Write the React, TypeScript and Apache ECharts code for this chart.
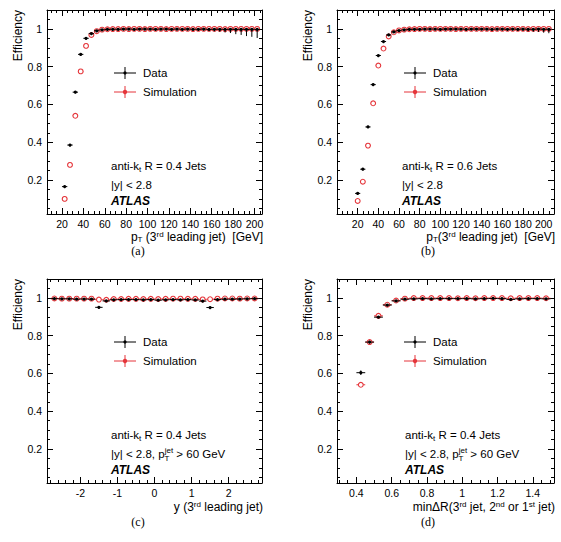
import React, { useEffect, useRef } from 'react';
import * as echarts from 'echarts';

const SANS = '"Liberation Sans", Arial, Helvetica, sans-serif';
const SERIF = '"Liberation Serif", "DejaVu Serif", serif';
const BLACK = '#000000';
const RED = '#e5353a';

// ---------- (a) anti-kt R = 0.4, efficiency vs pT of the 3rd leading jet ----------
const PT_R04 = [22.5, 27.5, 32.5, 37.5, 42.5, 47.5, 52.5, 57.5, 62.5, 67.5, 72.5, 77.5, 82.5, 87.5, 92.5, 97.5, 102.5, 107.5, 112.5, 117.5, 122.5, 127.5, 132.5, 137.5, 142.5, 147.5, 152.5, 157.5, 162.5, 167.5, 172.5, 177.5, 182.5, 187.5, 192.5, 197.5, 202.5];
const DATA_R04 = [0.165, 0.385, 0.665, 0.865, 0.95, 0.975, 0.99, 0.995, 0.997, 0.998, 0.998, 0.999, 0.999, 0.998, 0.999, 0.999, 0.999, 0.998, 0.999, 0.999, 0.998, 0.999, 0.998, 0.999, 0.998, 0.998, 0.999, 0.997, 0.998, 0.998, 0.997, 0.998, 0.997, 0.998, 0.997, 0.998, 0.997];
const DATA_ERR_R04 = [0.005, 0.006, 0.006, 0.005, 0.004, 0.003, 0.002, 0.002, 0.002, 0.002, 0.002, 0.002, 0.002, 0.002, 0.003, 0.003, 0.003, 0.003, 0.004, 0.004, 0.004, 0.005, 0.005, 0.006, 0.006, 0.007, 0.008, 0.009, 0.011, 0.013, 0.016, 0.02, 0.025, 0.03, 0.035, 0.04, 0.045];
const SIM_R04 = [0.1, 0.28, 0.54, 0.775, 0.91, 0.968, 0.988, 0.996, 0.998, 0.999, 0.999, 1.0, 0.999, 1.0, 1.0, 0.999, 1.0, 1.0, 1.0, 0.999, 1.0, 1.0, 1.0, 1.0, 0.999, 1.0, 1.0, 1.0, 1.0, 1.0, 0.999, 1.0, 1.0, 1.0, 1.0, 1.0, 1.0];
const SIM_ERR_R04 = [0.004, 0.005, 0.005, 0.004, 0.003, 0.002, 0.001, 0.001, 0.001, 0.001, 0.001, 0.001, 0.001, 0.001, 0.001, 0.001, 0.001, 0.001, 0.001, 0.001, 0.001, 0.001, 0.001, 0.001, 0.001, 0.001, 0.001, 0.001, 0.001, 0.001, 0.001, 0.001, 0.001, 0.001, 0.001, 0.001, 0.001];

// ---------- (b) anti-kt R = 0.6, efficiency vs pT of the 3rd leading jet ----------
const PT_R06 = [20, 25, 30, 35, 40, 45, 50, 55, 60, 65, 70, 75, 80, 85, 90, 95, 100, 105, 110, 115, 120, 125, 130, 135, 140, 145, 150, 155, 160, 165, 170, 175, 180, 185, 190, 195, 200, 205];
const DATA_R06 = [0.129, 0.257, 0.481, 0.705, 0.859, 0.933, 0.968, 0.984, 0.991, 0.995, 0.997, 0.998, 0.998, 0.999, 0.999, 0.999, 0.998, 0.999, 0.999, 0.999, 0.999, 0.998, 0.999, 0.999, 0.999, 0.999, 0.998, 0.999, 0.999, 0.998, 0.999, 0.998, 0.999, 0.998, 0.998, 0.999, 0.998, 0.998];
const DATA_ERR_R06 = [0.005, 0.006, 0.006, 0.006, 0.004, 0.003, 0.002, 0.002, 0.002, 0.002, 0.002, 0.002, 0.002, 0.002, 0.002, 0.002, 0.002, 0.002, 0.003, 0.003, 0.003, 0.003, 0.003, 0.004, 0.004, 0.004, 0.005, 0.005, 0.006, 0.006, 0.007, 0.008, 0.009, 0.011, 0.013, 0.015, 0.018, 0.021];
const SIM_R06 = [0.089, 0.191, 0.382, 0.606, 0.806, 0.896, 0.96, 0.982, 0.992, 0.996, 0.998, 0.999, 1.0, 1.0, 0.999, 1.0, 1.0, 1.0, 1.0, 0.999, 1.0, 1.0, 1.0, 1.0, 1.0, 1.0, 0.999, 1.0, 1.0, 1.0, 1.0, 1.0, 1.0, 0.999, 1.0, 1.0, 1.0, 1.0];
const SIM_ERR_R06 = [0.004, 0.005, 0.005, 0.005, 0.004, 0.003, 0.002, 0.001, 0.001, 0.001, 0.001, 0.001, 0.001, 0.001, 0.001, 0.001, 0.001, 0.001, 0.001, 0.001, 0.001, 0.001, 0.001, 0.001, 0.001, 0.001, 0.001, 0.001, 0.001, 0.001, 0.001, 0.001, 0.001, 0.001, 0.001, 0.001, 0.001, 0.001];

// ---------- (c) anti-kt R = 0.4, efficiency vs rapidity of the 3rd leading jet ----------
const Y_BINS = [-2.7, -2.5, -2.3, -2.1, -1.9, -1.7, -1.5, -1.3, -1.1, -0.9, -0.7, -0.5, -0.3, -0.1, 0.1, 0.3, 0.5, 0.7, 0.9, 1.1, 1.3, 1.5, 1.7, 1.9, 2.1, 2.3, 2.5, 2.7];
const DATA_Y = [0.996, 0.995, 0.995, 0.993, 0.994, 0.993, 0.95, 0.984, 0.99, 0.991, 0.991, 0.991, 0.99, 0.991, 0.988, 0.99, 0.991, 0.99, 0.991, 0.989, 0.983, 0.949, 0.991, 0.993, 0.993, 0.994, 0.995, 0.996];
const DATA_ERR_Y = [0.003, 0.003, 0.003, 0.003, 0.003, 0.003, 0.006, 0.004, 0.003, 0.003, 0.003, 0.003, 0.003, 0.003, 0.003, 0.003, 0.003, 0.003, 0.003, 0.003, 0.004, 0.006, 0.003, 0.003, 0.003, 0.003, 0.003, 0.003];
const SIM_Y = [0.997, 0.996, 0.996, 0.996, 0.996, 0.996, 0.991, 0.99, 0.994, 0.994, 0.995, 0.995, 0.994, 0.995, 0.994, 0.995, 0.996, 0.996, 0.995, 0.995, 0.992, 0.993, 0.996, 0.997, 0.997, 0.996, 0.997, 0.997];
const SIM_ERR_Y = [0.002, 0.002, 0.002, 0.002, 0.002, 0.002, 0.003, 0.003, 0.002, 0.002, 0.002, 0.002, 0.002, 0.002, 0.002, 0.002, 0.002, 0.002, 0.002, 0.002, 0.003, 0.003, 0.002, 0.002, 0.002, 0.002, 0.002, 0.002];

// ---------- (d) anti-kt R = 0.4, efficiency vs min delta R to the leading jets ----------
const DR_BINS = [0.425, 0.475, 0.525, 0.575, 0.625, 0.675, 0.725, 0.775, 0.825, 0.875, 0.925, 0.975, 1.025, 1.075, 1.125, 1.175, 1.225, 1.275, 1.325, 1.375, 1.425, 1.475];
const DATA_DR = [0.604, 0.766, 0.898, 0.962, 0.984, 0.993, 0.995, 0.996, 0.995, 0.996, 0.996, 0.996, 0.996, 0.995, 0.996, 0.997, 0.996, 0.992, 0.995, 0.996, 0.996, 0.995];
const DATA_ERR_DR = [0.012, 0.007, 0.005, 0.004, 0.003, 0.002, 0.002, 0.002, 0.002, 0.002, 0.002, 0.002, 0.002, 0.002, 0.002, 0.002, 0.002, 0.002, 0.002, 0.002, 0.002, 0.002];
const SIM_DR = [0.54, 0.766, 0.905, 0.964, 0.986, 0.996, 0.999, 0.999, 0.999, 0.999, 0.999, 0.998, 0.999, 0.998, 0.999, 0.999, 0.999, 0.998, 0.999, 0.999, 0.999, 0.998];
const SIM_ERR_DR = [0.008, 0.005, 0.003, 0.002, 0.002, 0.001, 0.001, 0.001, 0.001, 0.001, 0.001, 0.001, 0.001, 0.001, 0.001, 0.001, 0.001, 0.001, 0.001, 0.001, 0.001, 0.001];

// ---------- axis ticks ----------
const EFF_TICKS = [0.2, 0.4, 0.6, 0.8, 1];
const EFF_TICK_LABELS = ['0.2', '0.4', '0.6', '0.8', '1'];
const PT_TICKS = [20, 40, 60, 80, 100, 120, 140, 160, 180, 200];
const PT_TICK_LABELS = ['20', '40', '60', '80', '100', '120', '140', '160', '180', '200'];
const Y_TICKS = [-2, -1, 0, 1, 2];
const Y_TICK_LABELS = ['-2', '-1', '0', '1', '2'];
const DR_TICKS = [0.4, 0.6, 0.8, 1, 1.2, 1.4];
const DR_TICK_LABELS = ['0.4', '0.6', '0.8', '1', '1.2', '1.4'];

const EFF_MIN = 0.02;
const EFF_MAX = 1.1;

// frame of each pad, in pixels, plus the offsets of its x title and caption below the frame
const FRAMES = [
  { left: 47, top: 10, width: 215, height: 204, titleDy: 23, captionDy: 37 },
  { left: 337, top: 10, width: 217, height: 204, titleDy: 23, captionDy: 37 },
  { left: 47, top: 279, width: 215, height: 204, titleDy: 24, captionDy: 39 },
  { left: 337, top: 279, width: 217, height: 204, titleDy: 24, captionDy: 39 },
];

const PANELS = [
  {
    x: PT_R04, data: DATA_R04, dataErr: DATA_ERR_R04, sim: SIM_R04, simErr: SIM_ERR_R04, halfBin: 2.5,
    xMin: 6, xMax: 207, xTicks: PT_TICKS, xLabels: PT_TICK_LABELS, xMinorStep: 5,
    xTitle: 'p{sub|T} (3{sup|rd} leading jet)  [GeV]',
    lines: ['anti-k{sub|t} R = 0.4 Jets', '|y| < 2.8'], noteX: 64, caption: '(a)',
  },
  {
    x: PT_R06, data: DATA_R06, dataErr: DATA_ERR_R06, sim: SIM_R06, simErr: SIM_ERR_R06, halfBin: 2.5,
    xMin: 0, xMax: 210, xTicks: PT_TICKS, xLabels: PT_TICK_LABELS, xMinorStep: 5,
    xTitle: 'p{sub|T}(3{sup|rd} leading jet)  [GeV]',
    lines: ['anti-k{sub|t} R = 0.6 Jets', '|y| < 2.8'], noteX: 65, caption: '(b)',
  },
  {
    x: Y_BINS, data: DATA_Y, dataErr: DATA_ERR_Y, sim: SIM_Y, simErr: SIM_ERR_Y, halfBin: 0.1,
    xMin: -2.9, xMax: 2.9, xTicks: Y_TICKS, xLabels: Y_TICK_LABELS, xMinorStep: 0.2,
    xTitle: 'y (3{sup|rd} leading jet)',
    lines: ['anti-k{sub|t} R = 0.4 Jets', '|y| < 2.8, p{subz|T}{sup|jet} > 60 GeV'], noteX: 64, caption: '(c)',
  },
  {
    x: DR_BINS, data: DATA_DR, dataErr: DATA_ERR_DR, sim: SIM_DR, simErr: SIM_ERR_DR, halfBin: 0.025,
    xMin: 0.29, xMax: 1.52, xTicks: DR_TICKS, xLabels: DR_TICK_LABELS, xMinorStep: 0.05,
    xTitle: 'min\u0394R(3{sup|rd} jet, 2{sup|nd} or 1{sup|st} jet)',
    lines: ['anti-k{sub|t} R = 0.4 Jets', '|y| < 2.8, p{subz|T}{sup|jet} > 60 GeV'], noteX: 68, caption: '(d)',
  },
];

function minorTicks(min: number, max: number, step: number, majors: number[]) {
  const out: number[] = [];
  const start = Math.ceil(min / step - 1e-9);
  const end = Math.floor(max / step + 1e-9);
  for (let k = start; k <= end; k++) {
    const v = +(k * step).toFixed(6);
    if (!majors.some((m) => Math.abs(m - v) < 1e-9)) out.push(v);
  }
  return out;
}

function labelFor(ticks: number[], labels: string[]) {
  return (v: number) => {
    const i = ticks.findIndex((t) => Math.abs(t - v) < 1e-9);
    return i >= 0 ? labels[i] : '';
  };
}

function axis(dim: 'x' | 'y', gridIndex: number, position: string, min: number, max: number, ticks: number[], len: number, withLine: boolean, labels?: string[]) {
  return {
    type: 'value',
    gridIndex,
    position,
    min,
    max,
    axisLine: { show: withLine, onZero: false, lineStyle: { color: BLACK, width: 1 } },
    axisTick: { show: true, inside: true, length: len, customValues: ticks, lineStyle: { color: BLACK, width: 1 } },
    axisLabel: labels
      ? {
          show: true,
          customValues: ticks,
          formatter: labelFor(ticks, labels),
          margin: dim === 'x' ? 4 : 5,
          color: BLACK,
          fontFamily: SANS,
          fontSize: 10.5,
          hideOverlap: false,
        }
      : { show: false },
    splitLine: { show: false },
    minorTick: { show: false },
    minorSplitLine: { show: false },
  };
}

// error-bar marker: bin-width bar, vertical uncertainty, dot or open circle
function pointRenderer(color: string, open: boolean) {
  return (_params: any, api: any) => {
    const x = api.value(0);
    const y = api.value(1);
    const lo = api.value(2);
    const hi = api.value(3);
    const hw = api.value(4);
    const c = api.coord([x, y]);
    const l = api.coord([x - hw, y]);
    const r = api.coord([x + hw, y]);
    const b = api.coord([x, y - lo]);
    const t = api.coord([x, y + hi]);
    const rad = open ? 2.4 : 1.6;
    const style = { stroke: color, lineWidth: 1 };
    const children: any[] = [];
    if (open) {
      if (c[0] - l[0] > rad) children.push({ type: 'line', shape: { x1: l[0], y1: c[1], x2: c[0] - rad, y2: c[1] }, style });
      if (r[0] - c[0] > rad) children.push({ type: 'line', shape: { x1: c[0] + rad, y1: c[1], x2: r[0], y2: c[1] }, style });
      if (b[1] - c[1] > rad) children.push({ type: 'line', shape: { x1: c[0], y1: c[1] + rad, x2: c[0], y2: b[1] }, style });
      if (c[1] - t[1] > rad) children.push({ type: 'line', shape: { x1: c[0], y1: t[1], x2: c[0], y2: c[1] - rad }, style });
      children.push({ type: 'circle', shape: { cx: c[0], cy: c[1], r: rad }, style: { fill: 'none', stroke: color, lineWidth: 1.1 } });
    } else {
      children.push({ type: 'line', shape: { x1: l[0], y1: c[1], x2: r[0], y2: c[1] }, style });
      children.push({ type: 'line', shape: { x1: c[0], y1: t[1], x2: c[0], y2: b[1] }, style });
      children.push({ type: 'circle', shape: { cx: c[0], cy: c[1], r: rad }, style: { fill: color } });
    }
    return { type: 'group', children };
  };
}

const RICH = {
  sub: { fontSize: 8, lineHeight: 6, verticalAlign: 'bottom', fontFamily: SANS, fill: BLACK },
  subz: { fontSize: 8, lineHeight: 6, verticalAlign: 'bottom', fontFamily: SANS, fill: BLACK, width: 0.1 },
  sup: { fontSize: 8, lineHeight: 6, verticalAlign: 'top', fontFamily: SANS, fill: BLACK },
};

// one line of text with sub/superscripts; lineHeight sets how far they sit from the main text
function richText(x: number, y: number, text: string, align: string, size: number, lineHeight: number) {
  return {
    type: 'text',
    x,
    y,
    style: {
      text,
      align,
      verticalAlign: 'middle',
      fontFamily: SANS,
      fontSize: size,
      lineHeight,
      fill: BLACK,
      rich: RICH,
    },
  };
}

function buildOption() {
  const grid: any[] = [];
  const xAxis: any[] = [];
  const yAxis: any[] = [];
  const series: any[] = [];
  const graphic: any[] = [];

  PANELS.forEach((p, i) => {
    const f = FRAMES[i];
    grid.push({ left: f.left, top: f.top, width: f.width, height: f.height, outerBoundsMode: 'none', containLabel: false });

    const xMinor = minorTicks(p.xMin, p.xMax, p.xMinorStep, p.xTicks);
    const yMinor = minorTicks(EFF_MIN, EFF_MAX, 0.05, EFF_TICKS);

    xAxis.push(axis('x', i, 'bottom', p.xMin, p.xMax, p.xTicks, 6, true, p.xLabels));
    xAxis.push(axis('x', i, 'bottom', p.xMin, p.xMax, xMinor, 3, false));
    xAxis.push(axis('x', i, 'top', p.xMin, p.xMax, p.xTicks, 6, true));
    xAxis.push(axis('x', i, 'top', p.xMin, p.xMax, xMinor, 3, false));

    yAxis.push(axis('y', i, 'left', EFF_MIN, EFF_MAX, EFF_TICKS, 6, true, EFF_TICK_LABELS));
    yAxis.push(axis('y', i, 'left', EFF_MIN, EFF_MAX, yMinor, 3, false));
    yAxis.push(axis('y', i, 'right', EFF_MIN, EFF_MAX, EFF_TICKS, 6, true));
    yAxis.push(axis('y', i, 'right', EFF_MIN, EFF_MAX, yMinor, 3, false));

    const dataPts = p.x.map((x, k) => [x, p.data[k], p.dataErr[k], Math.min(p.dataErr[k], 1 - p.data[k]), p.halfBin]);
    const simPts = p.x.map((x, k) => [x, p.sim[k], p.simErr[k], Math.min(p.simErr[k], 1 - p.sim[k]), p.halfBin]);

    series.push({
      name: 'Simulation',
      type: 'custom',
      xAxisIndex: i * 4,
      yAxisIndex: i * 4,
      data: simPts,
      encode: { x: 0, y: 1 },
      renderItem: pointRenderer(RED, true),
      z: 3,
    });
    series.push({
      name: 'Data',
      type: 'custom',
      xAxisIndex: i * 4,
      yAxisIndex: i * 4,
      data: dataPts,
      encode: { x: 0, y: 1 },
      renderItem: pointRenderer(BLACK, false),
      z: 4,
    });

    // axis titles
    graphic.push({
      type: 'text',
      x: f.left - 29,
      y: f.top,
      rotation: Math.PI / 2,
      style: { text: 'Efficiency', align: 'right', verticalAlign: 'middle', fontFamily: SANS, fontSize: 12, fill: BLACK },
    });
    graphic.push(richText(f.left + f.width + 1, f.top + f.height + f.titleDy, p.xTitle, 'right', 12, 13));

    // legend
    const lx0 = f.left + 67;
    const lx1 = f.left + 89;
    const lxm = (lx0 + lx1) / 2;
    const ly1 = f.top + 63;
    const ly2 = f.top + 82;
    graphic.push({ type: 'line', shape: { x1: lx0, y1: ly1, x2: lx1, y2: ly1 }, style: { stroke: BLACK, lineWidth: 1 } });
    graphic.push({ type: 'line', shape: { x1: lxm, y1: ly1 - 6, x2: lxm, y2: ly1 + 6 }, style: { stroke: BLACK, lineWidth: 1 } });
    graphic.push({ type: 'circle', shape: { cx: lxm, cy: ly1, r: 1.6 }, style: { fill: BLACK } });
    graphic.push({ type: 'line', shape: { x1: lx0, y1: ly2, x2: lx1, y2: ly2 }, style: { stroke: RED, lineWidth: 1 } });
    graphic.push({ type: 'line', shape: { x1: lxm, y1: ly2 - 6, x2: lxm, y2: ly2 + 6 }, style: { stroke: RED, lineWidth: 1 } });
    graphic.push({ type: 'circle', shape: { cx: lxm, cy: ly2, r: 2.2 }, style: { fill: RED } });
    graphic.push({
      type: 'text', x: f.left + 96, y: ly1,
      style: { text: 'Data', align: 'left', verticalAlign: 'middle', fontFamily: SANS, fontSize: 11.5, fill: BLACK },
    });
    graphic.push({
      type: 'text', x: f.left + 96, y: ly2,
      style: { text: 'Simulation', align: 'left', verticalAlign: 'middle', fontFamily: SANS, fontSize: 11.5, fill: BLACK },
    });

    // jet definition, selection and experiment label
    graphic.push(richText(f.left + p.noteX, f.top + 156, p.lines[0], 'left', 11.5, 15));
    graphic.push(richText(f.left + p.noteX, f.top + 175, p.lines[1], 'left', 11.5, 16));
    graphic.push({
      type: 'text', x: f.left + p.noteX, y: f.top + 191,
      style: { text: 'ATLAS', align: 'left', verticalAlign: 'middle', fontFamily: SANS, fontSize: 12, fontWeight: 'bold', fontStyle: 'italic', fill: BLACK },
    });

    // pad caption
    graphic.push({
      type: 'text', x: f.left + 91, y: f.top + f.height + f.captionDy,
      style: { text: p.caption, align: 'center', verticalAlign: 'middle', fontFamily: SERIF, fontSize: 12, fill: BLACK },
    });
  });

  return {
    animation: false,
    backgroundColor: '#ffffff',
    textStyle: { fontFamily: SANS },
    grid,
    xAxis,
    yAxis,
    series,
    graphic: { elements: graphic },
  };
}

export default function App() {
  const ref = useRef<HTMLDivElement>(null);
  useEffect(() => {
    if (!ref.current) return;
    const chart = echarts.init(ref.current, undefined, { renderer: 'svg' });
    chart.setOption(buildOption() as any);
    return () => chart.dispose();
  }, []);
  return <div ref={ref} style={{ position: 'absolute', left: 0, top: 0, width: 561, height: 542 }} />;
}
